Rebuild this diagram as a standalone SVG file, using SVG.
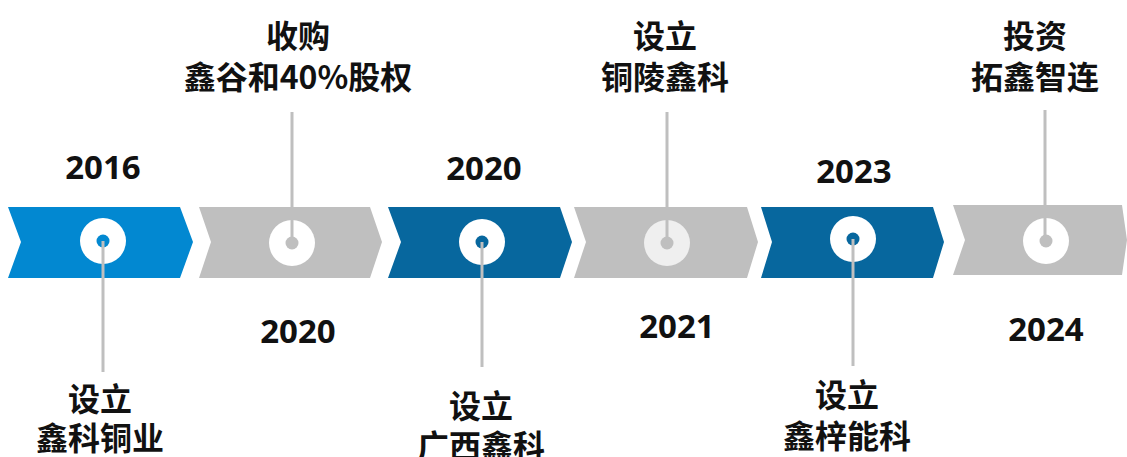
<svg xmlns="http://www.w3.org/2000/svg" width="1127" height="457" viewBox="0 0 1127 457">
<style>
.bright{fill:#0288D1}
.dark{fill:#07679E}
.gray{fill:#BFBFBF}
.ring{fill:#FFFFFF}
.t{font-family:"Noto Sans CJK SC","Noto Sans",sans-serif;font-weight:bold;font-size:32px;fill:#111111;text-anchor:middle}
.y{font-family:"Noto Sans","Noto Sans CJK SC",sans-serif;font-weight:bold;font-size:33px;fill:#111111;text-anchor:middle}
.conn line{stroke:#BFBFBF;stroke-width:3}
</style>
<rect width="1127" height="457" fill="#FFFFFF"/>
<g id="node-2016">
<polygon class="bright" points="8,207 180,207 193,242 180,278 8,278 21,242"/>
<circle class="ring" cx="103" cy="241" r="23"/>
<circle class="bright" cx="103" cy="241" r="6.5"/>
<text class="y" x="103" y="179">2016</text>
<text class="t" x="100" y="411">设立</text>
<text class="t" x="100" y="450">鑫科铜业</text>
</g>
<g id="node-2020a">
<polygon class="gray" points="199,207 370,207 382,242 370,278 199,278 211,242"/>
<circle class="ring" cx="292" cy="243" r="23"/>
<circle class="gray" cx="292" cy="243" r="6.5"/>
<text class="y" x="298" y="343">2020</text>
<text class="t" x="298" y="48">收购</text>
<text class="t" x="298" y="89">鑫谷和40%股权</text>
</g>
<g id="node-2020b">
<polygon class="dark" points="388,207 560,207 572,242 560,278 388,278 401,242"/>
<circle class="ring" cx="482" cy="242" r="23"/>
<circle class="dark" cx="482" cy="242" r="6.5"/>
<text class="y" x="484" y="180">2020</text>
<text class="t" x="481" y="418">设立</text>
<text class="t" x="481" y="458">广西鑫科</text>
</g>
<g id="node-2021">
<polygon class="gray" points="574,207 747,207 758,242 747,278 574,278 586,242"/>
<circle fill="#EFEFEF" cx="667" cy="243" r="23"/>
<circle class="gray" cx="667" cy="243" r="6.5"/>
<text class="y" x="677" y="338">2021</text>
<text class="t" x="665" y="48">设立</text>
<text class="t" x="665" y="89">铜陵鑫科</text>
</g>
<g id="node-2023">
<polygon class="dark" points="761,207 933,207 944,242 933,278 761,278 772,242"/>
<circle class="ring" cx="853" cy="239" r="23"/>
<circle class="dark" cx="853" cy="239" r="6.5"/>
<text class="y" x="854" y="183">2023</text>
<text class="t" x="847" y="407">设立</text>
<text class="t" x="847" y="448">鑫梓能科</text>
</g>
<g id="node-2024">
<polygon class="gray" points="953,205 1122,205 1127,240 1122,275 953,275 965,240"/>
<circle class="ring" cx="1046" cy="241" r="23"/>
<circle class="gray" cx="1046" cy="241" r="6.5"/>
<text class="y" x="1046" y="341">2024</text>
<text class="t" x="1035" y="48">投资</text>
<text class="t" x="1035" y="89">拓鑫智连</text>
</g>
<g id="connectors" class="conn">
<line x1="103" y1="241" x2="103" y2="372"/>
<line x1="292" y1="112" x2="292" y2="243"/>
<line x1="482" y1="242" x2="482" y2="367"/>
<line x1="667" y1="112" x2="667" y2="243"/>
<line x1="853" y1="239" x2="853" y2="366"/>
<line x1="1045" y1="110" x2="1045" y2="241"/>
</g>
</svg>
